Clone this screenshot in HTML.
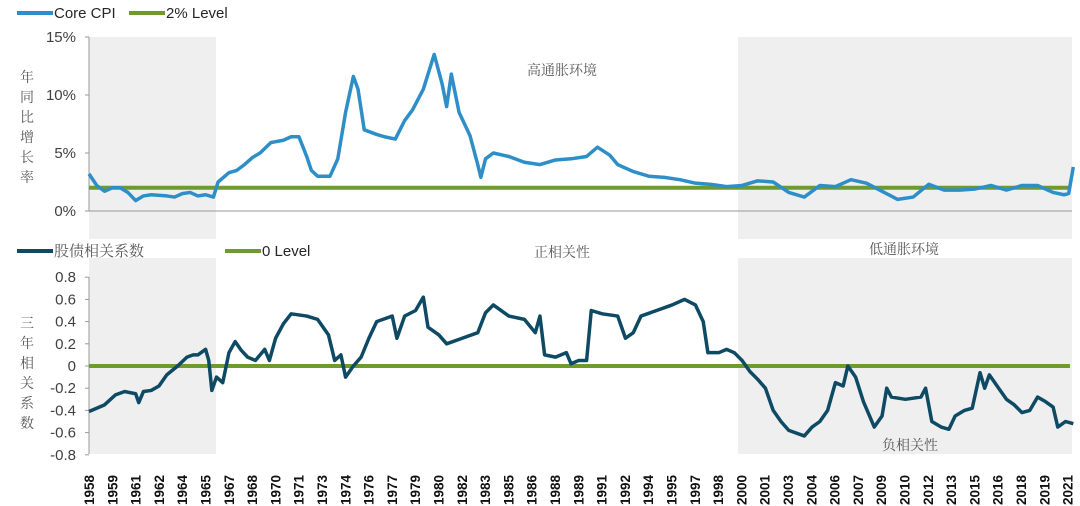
<!DOCTYPE html>
<html><head><meta charset="utf-8"><style>
body{margin:0;background:#fff;width:1080px;height:506px;overflow:hidden}
svg{display:block;font-family:"Liberation Sans","Noto Sans CJK SC",sans-serif}
.cj{font-family:"Noto Serif CJK SC","Noto Sans CJK SC",serif;fill:#595959}
</style></head><body>
<svg id="c" width="1080" height="506" viewBox="0 0 1080 506"></svg>
<script>
const cpiYears=[1958,1958.5,1959,1959.5,1960,1960.5,1961,1961.5,1962,1963,1963.5,1964,1964.5,1965,1965.5,1966,1966.3,1967,1967.5,1968,1968.5,1969,1969.7,1970.5,1971,1971.5,1972,1972.3,1972.7,1973.5,1974,1974.5,1975,1975.3,1975.7,1976.5,1977,1977.7,1978.3,1978.8,1979.5,1980.2,1980.7,1981,1981.3,1981.8,1982.5,1983,1983.2,1983.5,1984,1985,1986,1987,1988,1989,1990,1990.7,1991.5,1992,1993,1994,1995,1996,1997,1998,1999,2000,2001,2002,2003,2004,2005,2006,2007,2008,2009,2010,2011,2012,2013,2014,2015,2016,2017,2018,2019,2020,2020.7,2021,2021.3];
const cpiValues=[3.2,2.2,1.7,2.0,2.0,1.6,0.9,1.3,1.4,1.3,1.2,1.5,1.6,1.3,1.4,1.2,2.5,3.3,3.5,4.0,4.6,5.0,5.9,6.1,6.4,6.4,4.7,3.5,3.0,3.0,4.5,8.5,11.6,10.5,7.0,6.6,6.4,6.2,7.8,8.7,10.5,13.5,11.0,9.0,11.8,8.5,6.5,4.0,2.9,4.5,5.0,4.7,4.2,4.0,4.4,4.5,4.7,5.5,4.8,4.0,3.4,3.0,2.9,2.7,2.4,2.3,2.1,2.2,2.6,2.5,1.6,1.2,2.2,2.1,2.7,2.4,1.7,1.0,1.2,2.3,1.8,1.8,1.9,2.2,1.8,2.2,2.2,1.6,1.4,1.5,3.8];
const corrYears=[1958,1959,1959.7,1960.3,1961,1961.2,1961.5,1962,1962.5,1963,1963.7,1964.3,1964.7,1965,1965.5,1965.7,1965.9,1966.2,1966.6,1967,1967.4,1967.8,1968.2,1968.7,1969.3,1969.6,1970,1970.5,1971,1972,1972.7,1973.4,1973.8,1974.2,1974.5,1975,1975.5,1976,1976.5,1977.5,1977.8,1978.3,1979,1979.5,1979.8,1980.5,1981,1982,1983,1983.5,1984,1985,1986,1986.7,1987,1987.3,1988,1988.7,1989,1989.5,1990,1990.3,1991,1992,1992.5,1993,1993.5,1994.5,1995.5,1996.3,1997,1997.5,1997.8,1998.5,1999,1999.5,2000,2000.5,2001,2001.5,2002,2002.5,2003,2004,2004.5,2005,2005.5,2006,2006.5,2006.8,2007.3,2007.8,2008.5,2009,2009.3,2009.6,2010.5,2011.5,2011.8,2012.2,2012.8,2013.3,2013.7,2014.3,2014.8,2015.3,2015.6,2015.9,2016.5,2017,2017.5,2018,2018.5,2019,2019.5,2020,2020.3,2020.8,2021.3];
const corrValues=[-0.41,-0.35,-0.26,-0.23,-0.25,-0.33,-0.23,-0.22,-0.18,-0.08,0.0,0.08,0.1,0.1,0.15,0.05,-0.22,-0.1,-0.15,0.12,0.22,0.14,0.08,0.05,0.15,0.05,0.25,0.38,0.47,0.45,0.42,0.28,0.05,0.1,-0.1,0.0,0.08,0.25,0.4,0.45,0.25,0.45,0.5,0.62,0.35,0.28,0.2,0.25,0.3,0.48,0.55,0.45,0.42,0.3,0.45,0.1,0.08,0.12,0.02,0.05,0.05,0.5,0.47,0.45,0.25,0.3,0.45,0.5,0.55,0.6,0.55,0.4,0.12,0.12,0.15,0.12,0.05,-0.05,-0.12,-0.2,-0.4,-0.5,-0.58,-0.63,-0.55,-0.5,-0.4,-0.15,-0.18,0.0,-0.1,-0.32,-0.55,-0.45,-0.2,-0.28,-0.3,-0.28,-0.2,-0.5,-0.55,-0.57,-0.45,-0.4,-0.38,-0.06,-0.2,-0.08,-0.2,-0.3,-0.35,-0.42,-0.4,-0.28,-0.32,-0.37,-0.55,-0.5,-0.52];
const xLabels=["1958","1959","1961","1962","1964","1965","1967","1968","1970","1971","1973","1974","1976","1977","1979","1980","1982","1983","1985","1986","1988","1989","1991","1992","1994","1995","1997","1998","2000","2001","2003","2004","2006","2007","2009","2010","2012","2013","2015","2016","2018","2019","2021"];
const cpiTicks=[0,5,10,15];
const corrTicks=[0.8,0.6,0.4,0.2,0,-0.2,-0.4,-0.6,-0.8];

const svg=document.getElementById('c');
const NS='http://www.w3.org/2000/svg';
function mk(t,a,p){const e=document.createElementNS(NS,t);for(const k in a)e.setAttribute(k,a[k]);(p||svg).appendChild(e);return e;}
const x=y=>89+(y-1958)*15.55;
const yT=v=>211-v*11.6;
const yB=v=>366-v*111;

let s;
s=mk('rect',{x:89,y:37,width:127,height:202,fill:'#efefef'});

s=mk('rect',{x:738,y:37,width:334,height:202,fill:'#efefef'});

s=mk('rect',{x:89,y:258,width:127,height:196,fill:'#efefef'});

s=mk('rect',{x:738,y:258,width:334,height:196,fill:'#efefef'});


let a=mk('path',{d:'M89 37V211H1072',stroke:'#999',fill:'none','stroke-width':1});

a=mk('path',{d:'M89 277V454',stroke:'#999',fill:'none','stroke-width':1});

cpiTicks.forEach(v=>{
  mk('line',{x1:85,x2:89,y1:yT(v),y2:yT(v),stroke:'#999'});
  const t=mk('text',{x:76,y:yT(v)+5,'text-anchor':'end','font-size':15,fill:'#404040'});t.textContent=v+'%';
  
});
corrTicks.forEach(v=>{
  mk('line',{x1:85,x2:89,y1:yB(v),y2:yB(v),stroke:'#999'});
  const t=mk('text',{x:76,y:yB(v)+5,'text-anchor':'end','font-size':15,fill:'#404040'});t.textContent=(v===0?'0':v.toFixed(1));
  
});
xLabels.forEach((l,i)=>{
  const px=89+i*23.3+5;
  const t=mk('text',{x:0,y:0,transform:`translate(${px},505) rotate(-90)`,'font-size':13.5,fill:'#111','font-weight':'bold'});t.textContent=l;
  
});

let r=mk('line',{x1:89,x2:1070,y1:yT(2),y2:yT(2),stroke:'#6f9a2e','stroke-width':4});

r=mk('line',{x1:89,x2:1070,y1:yB(0),y2:yB(0),stroke:'#6f9a2e','stroke-width':4});


let p=mk('polyline',{points:cpiYears.map((y,i)=>x(y)+','+yT(cpiValues[i])).join(' '),fill:'none',stroke:'#2e8fc8','stroke-width':3.5,'stroke-linejoin':'round'});

p=mk('polyline',{points:corrYears.map((y,i)=>x(y)+','+yB(corrValues[i])).join(' '),fill:'none',stroke:'#0e4a64','stroke-width':3.5,'stroke-linejoin':'round'});


function leg(x1,y,col,label,name,cj){
  const g=mk('g',{});
  
  mk('line',{x1:x1,x2:x1+36,y1:y,y2:y,stroke:col,'stroke-width':4},g);
  const t=mk('text',{x:x1+37,y:y+5,'font-size':15,fill:'#262626'},g);t.textContent=label;
  if(cj)t.setAttribute('class','cj');
}
leg(17,13,'#2e8fc8','Core CPI','legend-core-cpi');
leg(129,13,'#6f9a2e','2% Level','legend-two-percent');
leg(17,251,'#0e4a64','  股债相关系数','legend-correlation',true);
leg(225,251,'#6f9a2e','0 Level','legend-zero-level');

function txt(x,y,str,name,size,anchor){const t=mk('text',{x:x,y:y,'font-size':size||14,'text-anchor':anchor||'middle',class:'cj'});t.textContent=str;}
txt(562,75,'高通胀环境','high-inflation-label');
txt(562,257,'正相关性','positive-correlation-label');
txt(904,254,'低通胀环境','low-inflation-label');
txt(910,450,'负相关性','negative-correlation-label');
['年','同','比','增','长','率'].forEach((c,i)=>txt(27,82+i*20,c,'cpi-y-title-char',14));
['三','年','相','关','系','数'].forEach((c,i)=>txt(27,328+i*20,c,'corr-y-title-char',14));
</script>
</body></html>
